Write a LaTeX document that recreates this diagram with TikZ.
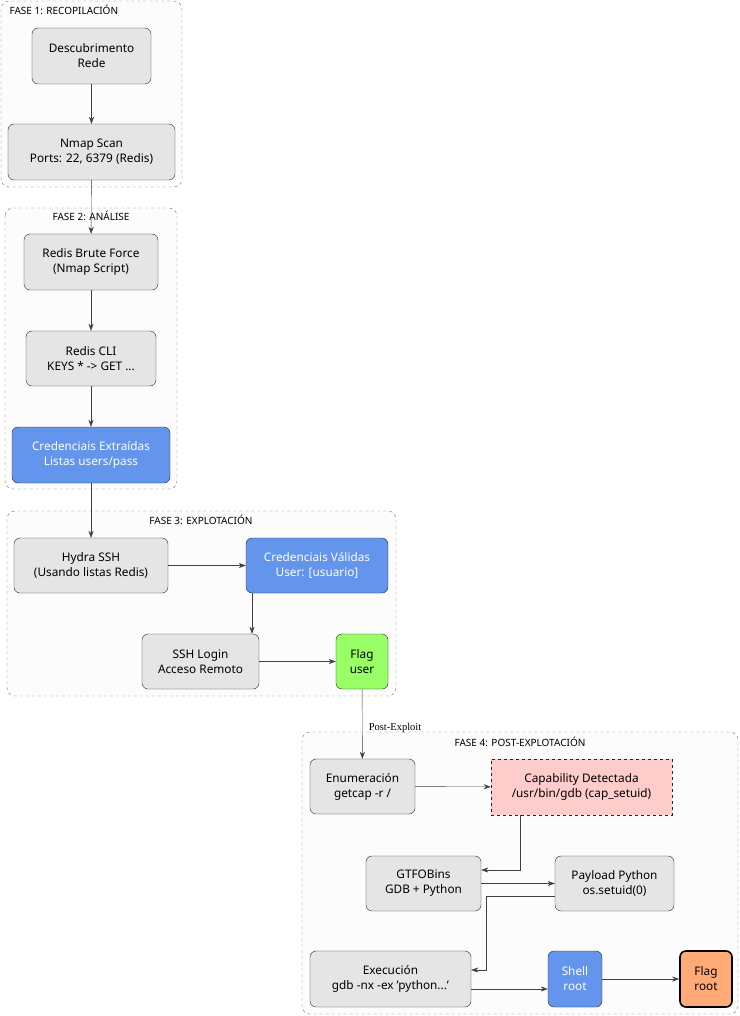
\documentclass[tikz,border=0pt]{standalone}
\usepackage{fontspec}
\setmainfont{Noto Sans}
\newfontfamily\serifx{Liberation Serif}
\usetikzlibrary{arrows.meta}
\begin{document}
\begin{tikzpicture}[x=1pt,y=-1pt,
  box/.style={draw=black!85,rounded corners=6pt,fill=black!10,align=center,font=\fontsize{11.8}{15}\selectfont,inner sep=0pt},
  blue/.style={box,fill={rgb,255:red,100;green,149;blue,237},text=white},
  clus/.style={draw=black!55,dashed,rounded corners=8pt,fill=black!1},
  lab/.style={font=\fontsize{10}{12}\selectfont},
  arr/.style={-{Stealth[length=7pt,width=5pt]},draw=black!75}]
\useasboundingbox (0,0) rectangle (739,1016);
\draw[clus] (1,1) rectangle (182,187);
\node[lab,anchor=west] (l1) at (6,10) {FASE 1: RECOPILACIÓN};
\draw[clus] (5,208) rectangle (177,489);
\node[lab] (l2) at (91,216) {FASE 2: ANÁLISE};
\draw[clus] (7,511) rectangle (396,696);
\node[lab] (l3) at (201,520) {FASE 3: EXPLOTACIÓN};
\draw[clus] (302,732) rectangle (738,1014);
\node[lab] (l4) at (520,742) {FASE 4: POST-EXPLOTACIÓN};

\node[box,minimum width=119,minimum height=56] (d) at (91.5,56) {Descubrimento\\Rede};
\node[box,minimum width=167,minimum height=56] (n) at (91.5,152) {Nmap Scan\\Ports: 22, 6379 (Redis)};
\node[box,minimum width=134,minimum height=56] (b) at (91,262) {Redis Brute Force\\(Nmap Script)};
\node[box,minimum width=130,minimum height=55] (c) at (91,358.5) {Redis CLI\\KEYS * -> GET ...};
\node[blue,minimum width=158,minimum height=56] (e) at (91,455) {Credenciais Extraídas\\Listas users/pass};
\node[box,minimum width=154,minimum height=55] (h) at (91,565.5) {Hydra SSH\\(Usando listas Redis)};
\node[blue,minimum width=142,minimum height=55] (v) at (317,565.5) {Credenciais Válidas\\User: [usuario]};
\node[box,minimum width=117,minimum height=55] (s) at (200.5,661.5) {SSH Login\\Acceso Remoto};
\node[box,fill={rgb,255:red,153;green,255;blue,102},minimum width=52,minimum height=55] (fu) at (362,661.5) {Flag\\user};
\node[box,minimum width=105,minimum height=55] (en) at (362.5,786.5) {Enumeración\\getcap -r /};
\node[box,dashed,rounded corners=0pt,fill={rgb,255:red,255;green,204;blue,204},minimum width=181,minimum height=56] (cap) at (581.5,787) {Capability Detectada\\/usr/bin/gdb (cap\_setuid)};
\node[box,minimum width=115,minimum height=55] (g) at (423.5,883.5) {GTFOBins\\GDB + Python};
\node[box,minimum width=119,minimum height=55] (p) at (614.5,883.5) {Payload Python\\os.setuid(0)};
\node[box,minimum width=161,minimum height=56] (x) at (390.5,979) {Execución\\gdb -nx -ex 'python...'};
\node[blue,minimum width=54,minimum height=56] (sh) at (575,979) {Shell\\root};
\node[box,line width=1.6pt,draw=black,fill={rgb,255:red,255;green,170;blue,119},minimum width=52,minimum height=56] (fr) at (706,979) {Flag\\root};

\draw[arr] (d) -- (n);
\draw[arr] (n) -- (b);
\draw[arr] (b) -- (c);
\draw[arr] (c) -- (e);
\draw[arr] (e) -- (h);
\draw[arr] (h) -- (v);
\draw[arr] (v.south -| 252,0) -- (s.north -| 252,0);
\draw[arr] (s) -- (fu);
\draw[arr] (fu) -- node[right,font=\serifx\fontsize{10.5}{12}\selectfont,xshift=3pt,yshift=-4pt]{Post-Exploit} (en);
\draw[arr] (en) -- (cap);
\draw[arr] (cap.south -| 520,0) |- (g.east |- 0,870);
\draw[arr] (g) -- (p);
\draw[arr] (p.west |- 0,896) -| (486,970) -- (x.east |- 0,970);
\draw[arr] (x.east |- 0,989) -- (sh.west |- 0,989);
\draw[arr] (sh) -- (fr);
\end{tikzpicture}
\end{document}
